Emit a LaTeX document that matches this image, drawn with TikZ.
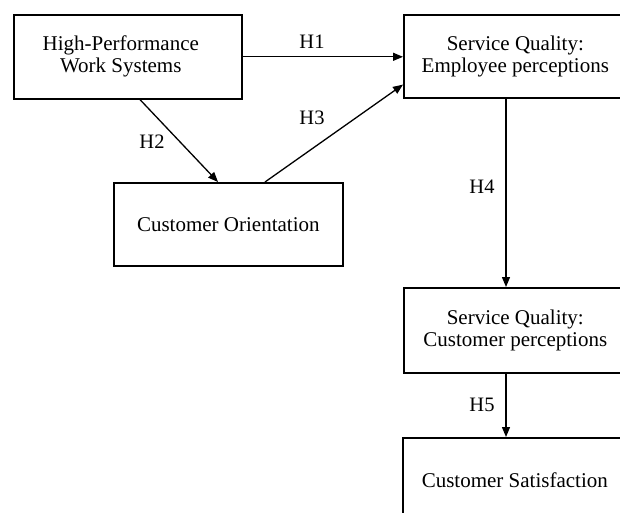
\documentclass[tikz,border=0pt]{standalone}
\usepackage{fontspec}
\setmainfont{Liberation Serif}
\usetikzlibrary{arrows.meta,calc}
\begin{document}
\begin{tikzpicture}[x=1pt,y=-1pt,
  every node/.style={font=\fontsize{21}{22}\selectfont, inner sep=0pt},
  box/.style={draw, line width=1.6pt, align=center, anchor=north west},
  link/.style={line width=1.3pt, -{Triangle[length=10pt,width=8pt]}},
  hyp/.style={font=\fontsize{20.5}{22}\selectfont}]
  \useasboundingbox (0,0) rectangle (620,512);
  \clip (0,0) rectangle (620,512);
  \fill[white] (0,0) rectangle (620,512);

  % construct boxes
  \node[box, minimum width=228pt, minimum height=84pt] (hpws) at (13,14)
    {High-Performance\hspace*{14pt}\\Work Systems\hspace*{14pt}};
  \node[box, minimum width=223pt, minimum height=83pt] (sqe) at (403,14)
    {Service Quality:\\Employee perceptions};
  \node[box, minimum width=229pt, minimum height=83pt] (co) at (113,182)
    {Customer Orientation};
  \node[box, minimum width=223pt, minimum height=85pt] (sqc) at (403,287)
    {Service Quality:\\Customer perceptions};
  \node[box, minimum width=224pt, minimum height=84pt] (cs) at (402,437)
    {Customer Satisfaction};

  % hypothesised paths
  \draw[link] (hpws.east) -- (hpws.east -| sqe.west);
  \draw[link] ($(hpws.south west)+(127,0)$) -- ($(co.north west)+(105,0)$);
  \draw[link] ($(co.north west)+(152,0)$) -- ($(sqe.south west)+(0,-14)$);
  \draw[link] ($(sqe.south west)+(103,0)$) -- ($(sqc.north west)+(103,0)$);
  \draw[link] ($(sqc.south west)+(103,0)$) -- ($(cs.north west)+(104,0)$);

  % path labels
  \node[hyp] (h1) at (312,42) {H1};
  \node[hyp] (h2) at (152,142) {H2};
  \node[hyp] (h3) at (312,118) {H3};
  \node[hyp] (h4) at (482,187) {H4};
  \node[hyp] (h5) at (482,405) {H5};
\end{tikzpicture}
\end{document}
